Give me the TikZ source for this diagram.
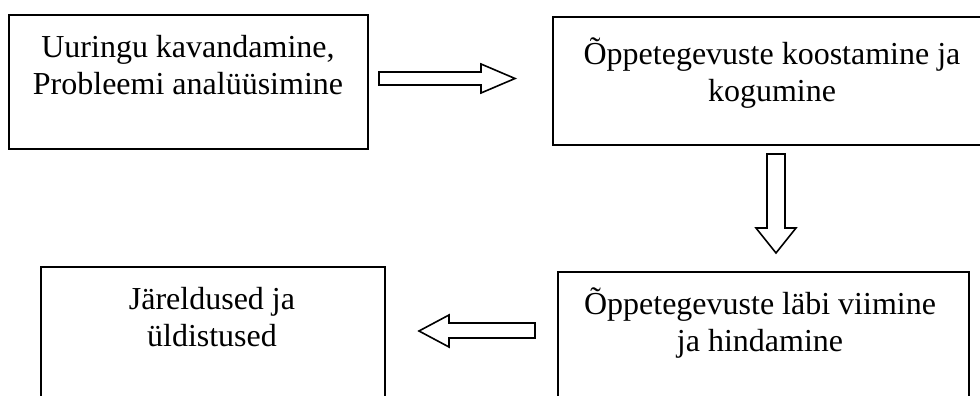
\documentclass[tikz,border=0pt]{standalone}
\usepackage{fontspec}
\setmainfont{Liberation Serif}
\begin{document}
\begin{tikzpicture}[x=1pt,y=-1pt,
  box/.style={draw=black, line width=2.2pt, rectangle, inner sep=0pt, outer sep=0pt},
  boxtext/.style={align=center, font=\fontsize{32}{36.5}\selectfont, inner sep=0pt, anchor=base},
  blockarrow/.style={draw=black, line width=1.6pt, fill=white, line join=miter}]
\clip (0,0) rectangle (980,396);
\fill[white] (0,0) rectangle (980,396);
% boxes
\node[box, minimum width=359pt, minimum height=134pt] (b1) at (188.5,82) {};
\node[box, minimum width=438pt, minimum height=128pt] (b2) at (772,81) {};
\node[box, minimum width=344pt, minimum height=150pt] (b3) at (213,342) {};
\node[box, minimum width=411pt, minimum height=150pt] (b4) at (763.5,347) {};
% texts (anchor base = baseline of the last line)
\node[boxtext] (t1) at (188,94) {Uuringu kavandamine,\\Probleemi analüüsimine};
\node[boxtext] (t2) at (772,101) {Õppetegevuste koostamine ja\\kogumine};
\node[boxtext] (t3) at (212,346) {Järeldused ja\\üldistused};
\node[boxtext] (t4) at (760,351) {Õppetegevuste läbi viimine\\ja hindamine};
% block arrows
\draw[blockarrow] (379,72) -- (481,72) -- (481,64) -- (515,78.5) -- (481,93) -- (481,85) -- (379,85) -- cycle;
\draw[blockarrow] (767,154) -- (785,154) -- (785,228) -- (796,228) -- (776,253) -- (756,228) -- (767,228) -- cycle;
\draw[blockarrow] (535,323) -- (449,323) -- (449,315) -- (419,331) -- (449,347) -- (449,338) -- (535,338) -- cycle;
\end{tikzpicture}
\end{document}
